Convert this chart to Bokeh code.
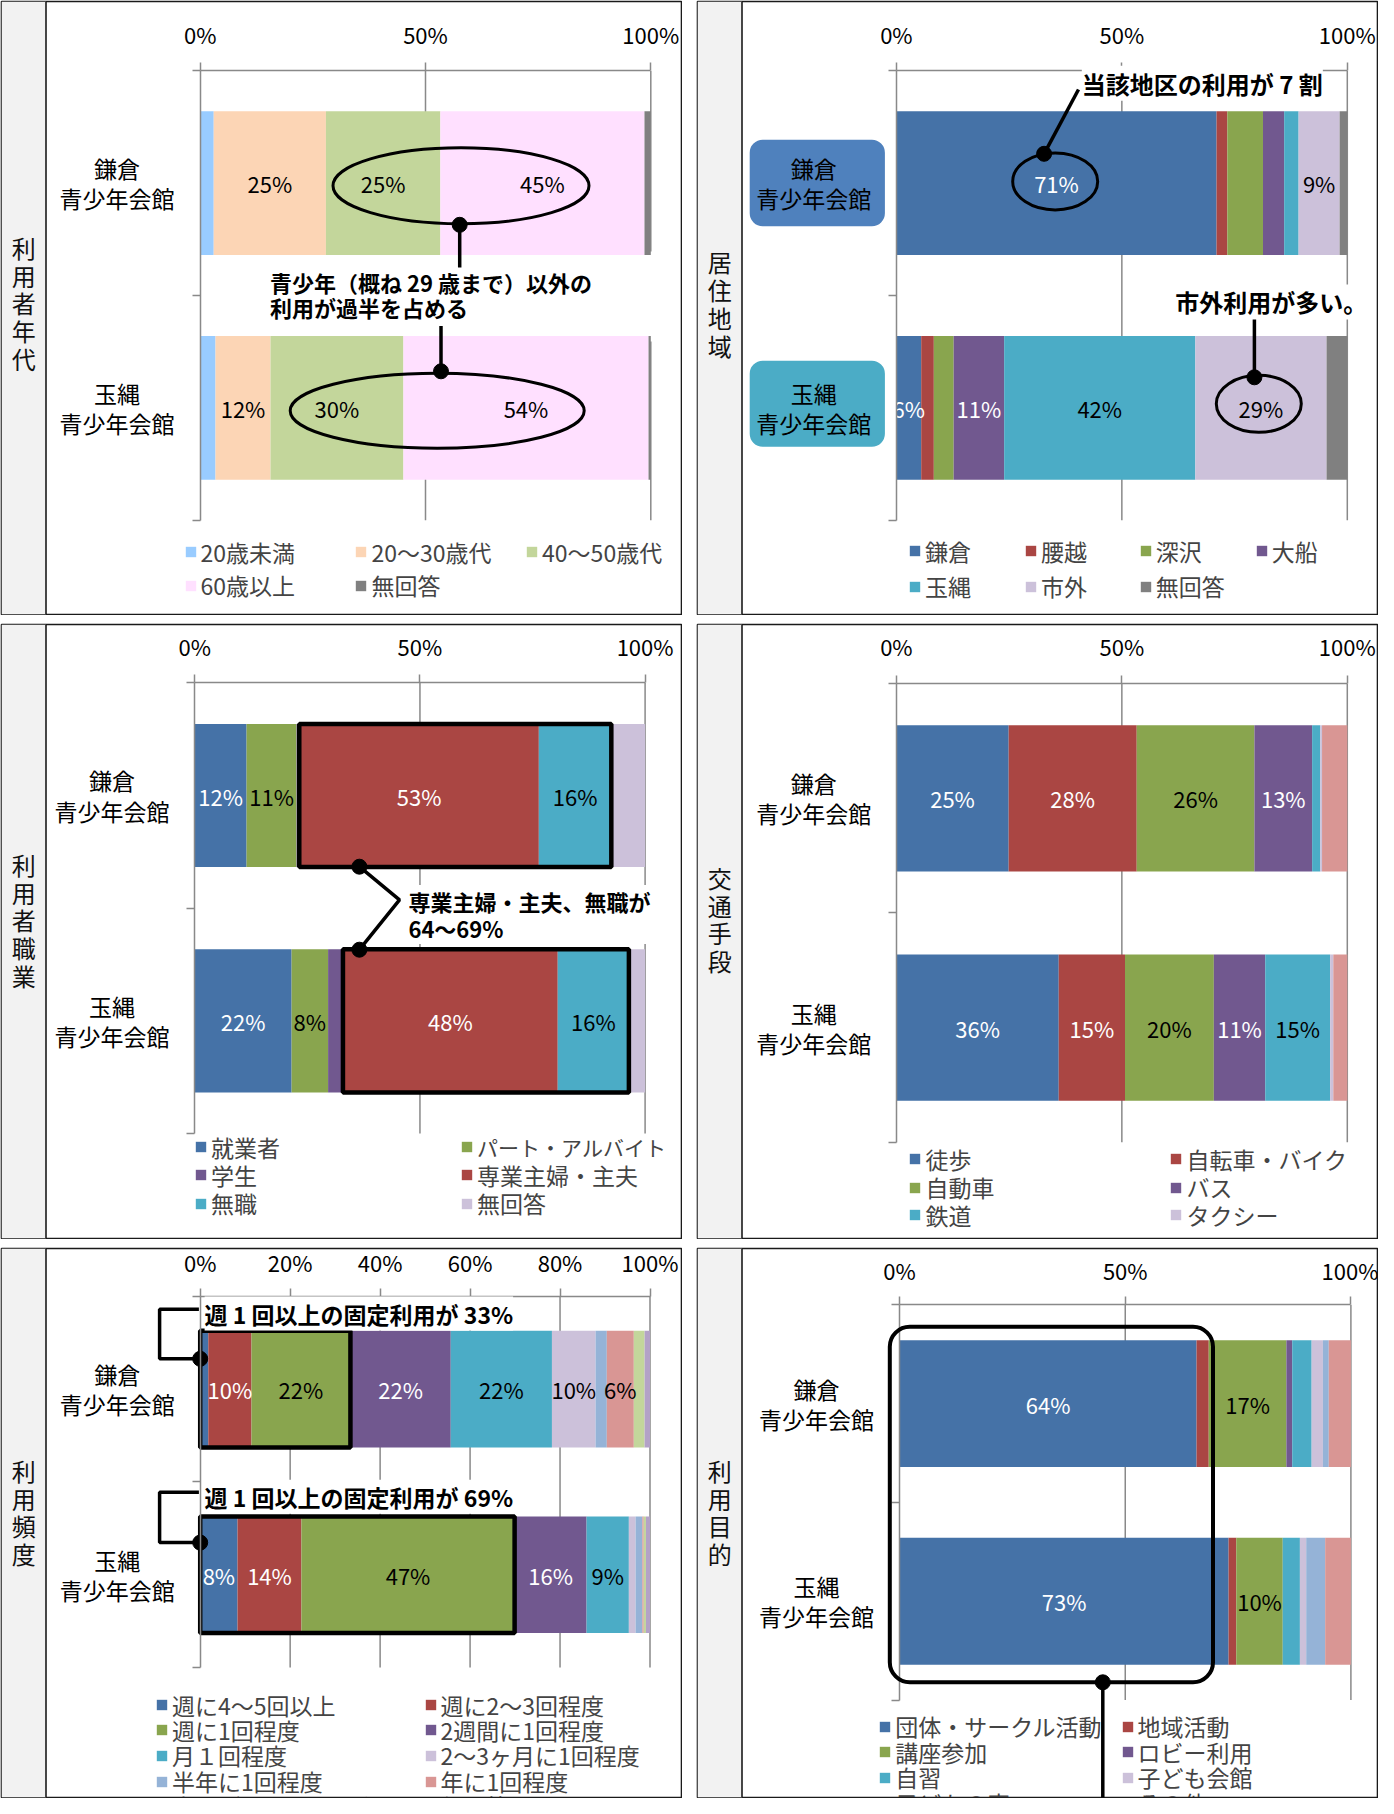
from bokeh.plotting import figure
from bokeh.models import (Range1d, LinearAxis, FixedTicker, NumeralTickFormatter,
                          Legend, LegendItem, BoxAnnotation, Label, Span, ColumnDataSource)
from bokeh.layouts import row, column
from bokeh.embed import file_html
from bokeh.resources import INLINE
from bokeh.core.properties import value

JP = "Noto Sans CJK JP"
GRID = "#898989"
DARK = {"#4572A7", "#AA4643", "#71588F"}

# ---------------- data ----------------
facilities = ["鎌倉\n青少年会館", "玉縄\n青少年会館"]

age_title = "利用者年代"
age_series = ["20歳未満", "20～30歳代", "40～50歳代", "60歳以上", "無回答"]
age_kamakura = [3.0, 24.9, 25.4, 45.3, 1.4]
age_tamanawa = [3.4, 12.2, 29.5, 54.4, 0.5]
age_lab_kamakura = ["", "25%", "25%", "45%", ""]
age_lab_tamanawa = ["", "12%", "30%", "54%", ""]
age_colors = ["#99CCFF", "#FCD5B5", "#C3D69B", "#FFE0FF", "#808080"]

res_title = "居住地域"
res_series = ["鎌倉", "腰越", "深沢", "大船", "玉縄", "市外", "無回答"]
res_kamakura = [71.0, 2.4, 7.9, 4.7, 3.2, 9.1, 1.7]
res_tamanawa = [5.5, 2.8, 4.4, 11.2, 42.4, 29.1, 4.6]
res_lab_kamakura = ["71%", "", "", "", "", "9%", ""]
res_lab_tamanawa = ["6%", "", "", "11%", "42%", "29%", ""]
res_colors = ["#4572A7", "#AA4643", "#89A54E", "#71588F", "#4BACC6", "#CCC1DA", "#808080"]

job_title = "利用者職業"
job_series = ["就業者", "パート・アルバイト", "学生", "専業主婦・主夫", "無職", "無回答"]
job_kamakura = [11.5, 11.1, 0.6, 53.2, 16.1, 7.5]
job_tamanawa = [21.5, 8.1, 3.3, 47.7, 15.8, 3.6]
job_lab_kamakura = ["12%", "11%", "", "53%", "16%", ""]
job_lab_tamanawa = ["22%", "8%", "", "48%", "16%", ""]
job_colors = ["#4572A7", "#89A54E", "#71588F", "#AA4643", "#4BACC6", "#CCC1DA"]

tr_title = "交通手段"
tr_series = ["徒歩", "自転車・バイク", "自動車", "バス", "鉄道", "タクシー", "その他"]
tr_kamakura = [24.9, 28.4, 26.1, 12.8, 1.8, 0.4, 5.6]
tr_tamanawa = [36.0, 14.7, 19.7, 11.4, 14.4, 0.7, 3.1]
tr_lab_kamakura = ["25%", "28%", "26%", "13%", "", "", ""]
tr_lab_tamanawa = ["36%", "15%", "20%", "11%", "15%", "", ""]
tr_colors = ["#4572A7", "#AA4643", "#89A54E", "#71588F", "#4BACC6", "#CCC1DA", "#D99694"]

fr_title = "利用頻度"
fr_series = ["週に4～5回以上", "週に2～3回程度", "週に1回程度", "2週間に1回程度", "月１回程度",
             "2～3ヶ月に1回程度", "半年に1回程度", "年に1回程度", "本日がはじめての利用", "無回答"]
fr_kamakura = [1.8, 9.6, 22.0, 22.3, 22.5, 9.7, 2.5, 6.0, 2.4, 1.2]
fr_tamanawa = [8.3, 14.2, 47.4, 16.0, 9.4, 1.5, 1.5, 0.3, 0.5, 0.9]
fr_lab_kamakura = ["", "10%", "22%", "22%", "22%", "10%", "", "6%", "", ""]
fr_lab_tamanawa = ["8%", "14%", "47%", "16%", "9%", "", "", "", "", ""]
fr_colors = ["#4572A7", "#AA4643", "#89A54E", "#71588F", "#4BACC6", "#CCC1DA",
             "#95B3D7", "#D99694", "#C3D69B", "#B3A2C7"]

pu_title = "利用目的"
pu_series = ["団体・サークル活動", "地域活動", "講座参加", "ロビー利用", "自習", "子ども会館", "子どもの家", "その他"]
pu_kamakura = [65.8, 2.7, 17.2, 1.3, 4.3, 2.5, 1.3, 4.9]
pu_tamanawa = [72.9, 1.7, 10.3, 0.0, 3.8, 1.4, 4.2, 5.7]
pu_lab_kamakura = ["64%", "", "17%", "", "", "", "", ""]
pu_lab_tamanawa = ["73%", "", "10%", "", "", "", "", ""]
pu_colors = ["#4572A7", "#AA4643", "#89A54E", "#71588F", "#4BACC6", "#CCC1DA", "#95B3D7", "#D99694"]

ticks_half = [0, 0.5, 1.0]
ticks_fifth = [0, 0.2, 0.4, 0.6, 0.8, 1.0]

note_age = "青少年（概ね 29 歳まで）以外の\n利用が過半を占める"
note_res1 = "当該地区の利用が 7 割"
note_res2 = "市外利用が多い。"
note_job = "専業主婦・主夫、無職が\n64～69%"
note_fr1 = "週 1 回以上の固定利用が 33%"
note_fr2 = "週 1 回以上の固定利用が 69%"

# ---------------- layout geometry (px inside each panel) ----------------
W = 680
H1, H2, H3 = 613, 614, 549
LH = 36
EM = 1.448   # line-box height of the CJK font, in em

G1 = dict(x0=198.7, x1=649.3, yt=69.3, ch=224.75, bh=0.64, lab_y=35.0, cat_x=115.5, title_y=301.3)
G2 = dict(x0=198.9, x1=649.8, yt=69.3, ch=224.75, bh=0.64, lab_y=35.0, cat_x=116.2, title_y=302.0)
G3 = dict(x0=193.3, x1=643.6, yt=58.4, ch=225.3, bh=0.635, lab_y=23.6, cat_x=110.4, title_y=295.4)
G4 = dict(x0=198.9, x1=649.8, yt=59.2, ch=229.25, bh=0.638, lab_y=23.6, cat_x=116.2, title_y=294.4)
G5 = dict(x0=198.7, x1=648.5, yt=47.8, ch=185.6, bh=0.628, lab_y=16.6, cat_x=115.8, title_y=263.6)
G6 = dict(x0=202.1, x1=653.4, yt=56.3, ch=197.6, bh=0.642, lab_y=23.9, cat_x=118.9, title_y=263.5)


def lh(pitch, size):
    return pitch / (EM * size)


def cums(vals):
    out, c = [], 0.0
    for v in vals:
        out.append(c)
        c += v
    return out


def make_panel(H, g, title, series, vk, vt, lk, lt, colors, ticks,
               leg_cols, leg_x, leg_y, show_cat=True, leg_size=None):
    x0, x1, yt, ch = g["x0"], g["x1"], g["yt"], g["ch"]
    leg_size = leg_size or {}

    def X(px):
        return (px - x0) / (x1 - x0)

    def Y(py):
        return (py - yt) / ch - 0.5

    p = figure(width=W + 2, height=H + 2,
               x_range=Range1d(X(0), X(W)), y_range=Range1d(Y(H), Y(0)),
               x_axis_type=None, y_axis_type=None,
               output_backend="svg", toolbar_location=None,
               min_border_left=1, min_border_right=1, min_border_top=1, min_border_bottom=1)
    p.outline_line_color = "#1a1a1a"
    p.outline_line_width = 1.6
    p.background_fill_color = "white"
    p.border_fill_color = "white"

    # gray title column
    p.add_layout(BoxAnnotation(right=X(44.5), fill_color="#F2F2F2", fill_alpha=1.0,
                               line_color=None, level="underlay"))
    p.add_layout(Span(location=X(44.5), dimension="height", line_color="#1a1a1a", line_width=1.6))
    p.text(x=[X(22.3)], y=[Y(g["title_y"])], text=["\n".join(title)],
           text_align="center", text_baseline="middle", text_font=value(JP),
           text_font_size="24px", text_line_height=lh(27.6, 24), text_color="#111111")

    # grid lines
    gx = [t for t in ticks if t > 0]
    p.segment(x0=gx, x1=gx, y0=[-0.5] * len(gx), y1=[1.5] * len(gx),
              line_color=GRID, line_width=1.5, level="underlay")

    # stacked bars
    ck, ctt = cums(vk), cums(vt)
    rends = []
    for i in range(len(series)):
        src = ColumnDataSource(dict(y=[0, 1],
                                    left=[ck[i] / 100, ctt[i] / 100],
                                    right=[(ck[i] + vk[i]) / 100, (ctt[i] + vt[i]) / 100]))
        r = p.hbar(y="y", left="left", right="right", height=g["bh"], source=src,
                   fill_color=colors[i], line_color=None)
        rends.append(r)

    # value labels
    lx, ly, ltx, lc = [], [], [], []
    for j, (vals, labs, cs) in enumerate(((vk, lk, ck), (vt, lt, ctt))):
        for i, v in enumerate(vals):
            if labs[i]:
                lx.append((cs[i] + v / 2) / 100)
                ly.append(j)
                ltx.append(labs[i])
                lc.append("white" if colors[i] in DARK else "black")
    p.text(x=lx, y=ly, text=ltx, text_color=lc, text_align="center", text_baseline="middle",
           text_font=value(JP), text_font_size="22px")

    # category labels
    if show_cat:
        p.text(x=[X(g["cat_x"])] * 2, y=[0, 1], text=facilities,
               text_align="center", text_baseline="middle", text_font=value(JP),
               text_font_size="23px", text_line_height=lh(29.5, 23), text_color="black")

    # axes
    std = (g["yt"] - g["lab_y"]) - 8 - 13.5
    xa = LinearAxis(ticker=FixedTicker(ticks=ticks), formatter=NumeralTickFormatter(format="0%"),
                    fixed_location=-0.5, bounds=(0, 1),
                    axis_line_color=GRID, axis_line_width=1.5,
                    major_tick_line_color=GRID, major_tick_line_width=1.5,
                    major_tick_in=0, major_tick_out=8, minor_tick_line_color=None,
                    major_label_text_font=JP, major_label_text_font_size="22px",
                    major_label_text_color="black", major_label_standoff=int(round(std)))
    p.add_layout(xa, "above")
    ya = LinearAxis(ticker=FixedTicker(ticks=[], minor_ticks=[-0.5, 0.5, 1.5]),
                    fixed_location=0, bounds=(-0.5, 1.5),
                    axis_line_color=GRID, axis_line_width=1.5,
                    major_tick_line_color=None,
                    minor_tick_line_color=GRID, minor_tick_line_width=1.5,
                    minor_tick_in=0, minor_tick_out=8)
    p.add_layout(ya, "left")

    # legends (one per cell so columns align like the original)
    for c, items in enumerate(leg_cols):
        for r_, idx in enumerate(items):
            lg = Legend(items=[LegendItem(label=value(series[idx]), renderers=[rends[idx]])],
                        location=(leg_x[c], H - leg_y[r_] - LH / 2), orientation="vertical",
                        padding=0, margin=0, spacing=0, glyph_width=13, glyph_height=13,
                        label_height=LH, label_standoff=4,
                        label_text_font=JP, label_text_font_size=leg_size.get(idx, "23px"),
                        border_line_color=None, background_fill_color=None)
            p.add_layout(lg)
    return p, X, Y


def note(p, x, y, text, size=22, pitch=25.5, bg=True):
    lab = Label(x=x, y=y, text=text, text_font=JP, text_font_size=f"{size}px",
                text_font_style="bold", text_align="left", text_baseline="middle",
                text_line_height=lh(pitch, size), text_color="black")
    if bg:
        lab.background_fill_color = "white"
    p.add_layout(lab)


# ---------------- panel 1: age ----------------
p1, X, Y = make_panel(H1, G1, age_title, age_series, age_kamakura, age_tamanawa,
                      age_lab_kamakura, age_lab_tamanawa, age_colors, ticks_half,
                      [[0, 3], [1, 4], [2]], [182.5, 353.4, 524.1], [550.5, 584.0])
p1.add_layout(BoxAnnotation(left=X(206), right=X(662), top=Y(250), bottom=Y(340),
                            fill_color="white", fill_alpha=1.0, line_color=None, level="underlay"))
p1.ellipse(x=[X(459.5), X(435.7)], y=[Y(184.3), Y(409.3)], width=[256, 294], height=[76, 75],
           width_units="screen", height_units="screen", fill_color=None,
           line_color="black", line_width=3)
p1.multi_line(xs=[[X(458.2), X(458.2)], [X(439.5), X(439.5)]],
              ys=[[Y(223.3), Y(266.0)], [Y(369.8), Y(324.5)]], line_color="black", line_width=3.5)
p1.scatter(x=[X(458.2), X(439.5)], y=[Y(223.3), Y(369.8)], size=15, color="black")
note(p1, X(268.5), Y(292.8), note_age, size=22, pitch=25.0, bg=False)

# ---------------- panel 2: residence ----------------
p2, X, Y = make_panel(H1, G2, res_title, res_series, res_kamakura, res_tamanawa,
                      res_lab_kamakura, res_lab_tamanawa, res_colors, ticks_half,
                      [[0, 4], [1, 5], [2, 6], [3]], [210.9, 327.0, 441.7, 557.8], [549.7, 585.3],
                      show_cat=False)
for (top, bot, col) in ((138.3, 224.8, "#4F81BD"), (359.3, 445.3, "#4BACC6")):
    p2.add_layout(BoxAnnotation(left=X(52.2), right=X(187.4), top=Y(top), bottom=Y(bot),
                                fill_color=col, fill_alpha=1.0, line_color=None,
                                border_radius=13, level="underlay"))
p2.text(x=[X(G2["cat_x"])] * 2, y=[0, 1], text=facilities,
        text_align="center", text_baseline="middle", text_font=value(JP),
        text_font_size="23px", text_line_height=lh(30.0, 23), text_color="black")
p2.ellipse(x=[X(357.7), X(561.3)], y=[Y(179.9), Y(402.3)], width=[85, 85], height=[57, 57],
           width_units="screen", height_units="screen", fill_color=None,
           line_color="black", line_width=3)
p2.multi_line(xs=[[X(381.0), X(346.6)], [X(556.9), X(556.9)]],
              ys=[[Y(88.0), Y(152.3)], [Y(312.3), Y(375.8)]], line_color="black", line_width=3.5)
p2.scatter(x=[X(346.6), X(556.9)], y=[Y(152.3), Y(375.8)], size=15, color="black")
note(p2, X(384.3), Y(81.8), note_res1, size=24)
note(p2, X(477.7), Y(300.4), note_res2, size=24)

# ---------------- panel 3: occupation ----------------
p3, X, Y = make_panel(H2, G3, job_title, job_series, job_kamakura, job_tamanawa,
                      job_lab_kamakura, job_lab_tamanawa, job_colors, ticks_half,
                      [[0, 2, 4], [1, 3, 5]], [192.9, 459.1], [522.9, 550.5, 579.0],
                      leg_size={1: "21px"})
jk, jt = cums(job_kamakura), cums(job_tamanawa)
p3.hbar(y=[0, 1], left=[jk[3] / 100, jt[3] / 100], right=[(jk[4] + job_kamakura[4]) / 100,
                                                        (jt[4] + job_tamanawa[4]) / 100],
        height=G3["bh"], fill_color=None, line_color="black", line_width=4.5)
p3.line(x=[X(357.9), X(398.0), X(357.9)], y=[Y(242.2), Y(275.4), Y(325.2)],
        line_color="black", line_width=3.5)
p3.scatter(x=[X(357.9), X(357.9)], y=[Y(242.2), Y(325.2)], size=15, color="black")
note(p3, X(406.9), Y(290.0), note_job, size=22, pitch=27.0)

# ---------------- panel 4: transport ----------------
p4, X, Y = make_panel(H2, G4, tr_title, tr_series, tr_kamakura, tr_tamanawa,
                      tr_lab_kamakura, tr_lab_tamanawa, tr_colors, ticks_half,
                      [[0, 2, 4], [1, 3, 5]], [211.4, 472.4], [534.7, 563.2, 590.8])

# ---------------- panel 5: frequency ----------------
p5, X, Y = make_panel(H3, G5, fr_title, fr_series, fr_kamakura, fr_tamanawa,
                      fr_lab_kamakura, fr_lab_tamanawa, fr_colors, ticks_fifth,
                      [[0, 2, 4, 6, 8], [1, 3, 5, 7, 9]], [154.1, 422.5],
                      [456.6, 481.6, 507.4, 533.1, 558.1])
p5.hbar(y=[0, 1], left=[0, 0], right=[sum(fr_kamakura[:3]) / 100, sum(fr_tamanawa[:3]) / 100],
        height=G5["bh"], fill_color=None, line_color="black", line_width=4.5)
p5.multi_line(xs=[[X(198.7), X(158.1), X(158.1), X(197.4)], [X(198.7), X(158.1), X(158.1), X(197.4)]],
              ys=[[Y(110.3), Y(110.3), Y(60.7), Y(60.7)], [Y(294.1), Y(294.1), Y(243.8), Y(243.8)]],
              line_color="black", line_width=3.5)
p5.scatter(x=[X(198.7), X(198.7)], y=[Y(110.3), Y(294.1)], size=15, color="black")
note(p5, X(203.1), Y(65.1), note_fr1, size=23)
note(p5, X(203.1), Y(248.2), note_fr2, size=23)

# ---------------- panel 6: purpose ----------------
p6, X, Y = make_panel(H3, G6, pu_title, pu_series, pu_kamakura, pu_tamanawa,
                      pu_lab_kamakura, pu_lab_tamanawa, pu_colors, ticks_half,
                      [[0, 2, 4, 6], [1, 3, 5, 7]], [181.2, 423.5], [478.0, 503.7, 529.4, 555.2])
p6.add_layout(BoxAnnotation(left=X(192.3), right=X(515.5), top=Y(78.3), bottom=Y(433.8),
                            fill_color=None, line_color="black", line_width=4, line_alpha=1.0,
                            border_radius=20))
p6.line(x=[X(405.3), X(405.3)], y=[Y(433.8), Y(H3 + 10)], line_color="black", line_width=3.5)
p6.scatter(x=[X(405.3)], y=[Y(433.8)], size=15, color="black")

layout = column(row(p1, p2, spacing=14), row(p3, p4, spacing=14), row(p5, p6, spacing=14),
                spacing=8)

open("out.html", "w").write(file_html(layout, INLINE))
